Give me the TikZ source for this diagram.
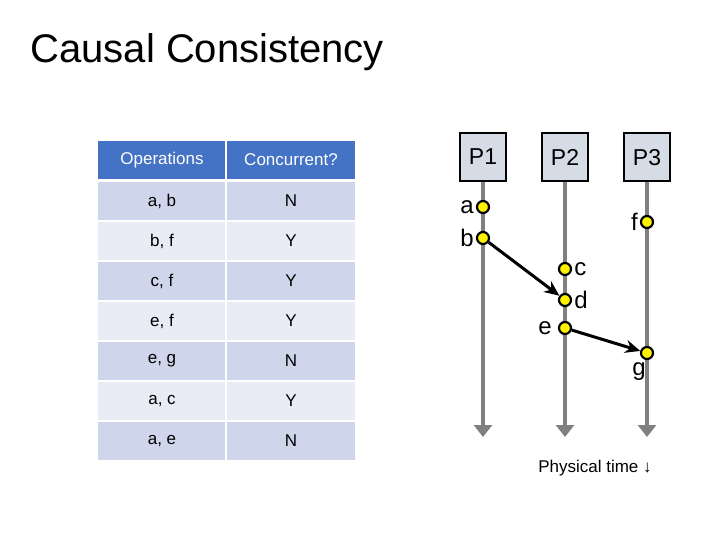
\documentclass[tikz,border=0pt]{standalone}
\usepackage{fontspec}
\setmainfont{Liberation Sans}
\usetikzlibrary{arrows.meta}
\definecolor{hdr}{HTML}{4472C4}
\definecolor{rowA}{HTML}{CFD5EA}
\definecolor{rowB}{HTML}{E9EBF5}
\definecolor{pbox}{HTML}{D6DCE5}
\definecolor{tl}{HTML}{808080}
\begin{document}
\begin{tikzpicture}[x=1pt,y=-1pt,
  cell/.style={draw=white,line width=2pt,minimum width=130pt,minimum height=40pt,inner sep=0pt,font=\fontsize{17}{19}\selectfont},
  proc/.style={draw=black,line width=2.2pt,fill=pbox,minimum width=46pt,minimum height=48pt,font=\fontsize{23}{25}\selectfont,text depth=0pt},
  tline/.style={draw=tl,line width=4pt,-{Triangle[length=12pt,width=18pt]}},
  ev/.style={circle,draw=black,fill=yellow,line width=2.2pt,minimum size=12pt,inner sep=0pt},
  lab/.style={font=\fontsize{24}{26}\selectfont,inner sep=2pt},
  msg/.style={draw=black,line width=3pt,-{Stealth[length=15pt,width=13pt]}}]
\useasboundingbox (0,0) rectangle (720,540);
\node[anchor=west,font=\fontsize{40}{44}\selectfont] (title) at (27,52) {Causal Consistency};
% table
\node[cell,fill=hdr,text=white] (h1) at (162,160) {Operations};
\node[cell,fill=hdr,text=white] (h2) at (291,160) {Concurrent?};
\foreach \i/\o/\c in {0/{a, b}/N,1/{b, f}/Y,2/{c, f}/Y,3/{e, f}/Y,4/{e, g}/N,5/{a, c}/Y,6/{a, e}/N}{
  \pgfmathsetmacro{\yy}{201+40*\i}
  \pgfmathparse{mod(\i,2)==0?"rowA":"rowB"}\edef\rc{\pgfmathresult}
  \node[cell,fill=\rc] (o\i) at (162,\yy) {\o};
  \node[cell,fill=\rc] (c\i) at (291,\yy) {\c};
}
% processes
\node[proc] (p1) at (483,157) {P1};
\node[proc] (p2) at (565,157) {P2};
\node[proc] (p3) at (647,157) {P3};
\coordinate (e1) at (483,437);
\coordinate (e2) at (565,437);
\coordinate (e3) at (647,437);
\draw[tline] (p1.south) -- (e1);
\draw[tline] (p2.south) -- (e2);
\draw[tline] (p3.south) -- (e3);
\node[ev,label={[lab]left:a}] (a) at (483,207) {};
\node[ev,label={[lab]left:b}] (b) at (483,238) {};
\node[ev,label={[lab]left:f}] (f) at (647,222) {};
\node[ev,label={[lab]right:c}] (c) at (565,269) {};
\node[ev,label={[lab]right:d}] (d) at (565,300) {};
\node[ev,label={[lab,xshift=-4pt]left:e}] (e) at (565,328) {};
\node[ev,label={[lab,xshift=-8pt]below:g}] (g) at (647,353) {};
\draw[msg] (b) -- (d);
\draw[msg] (e) -- (g);
\node[font=\fontsize{17}{19}\selectfont] (pt) at (595,468) {Physical time ↓};
\end{tikzpicture}
\end{document}
